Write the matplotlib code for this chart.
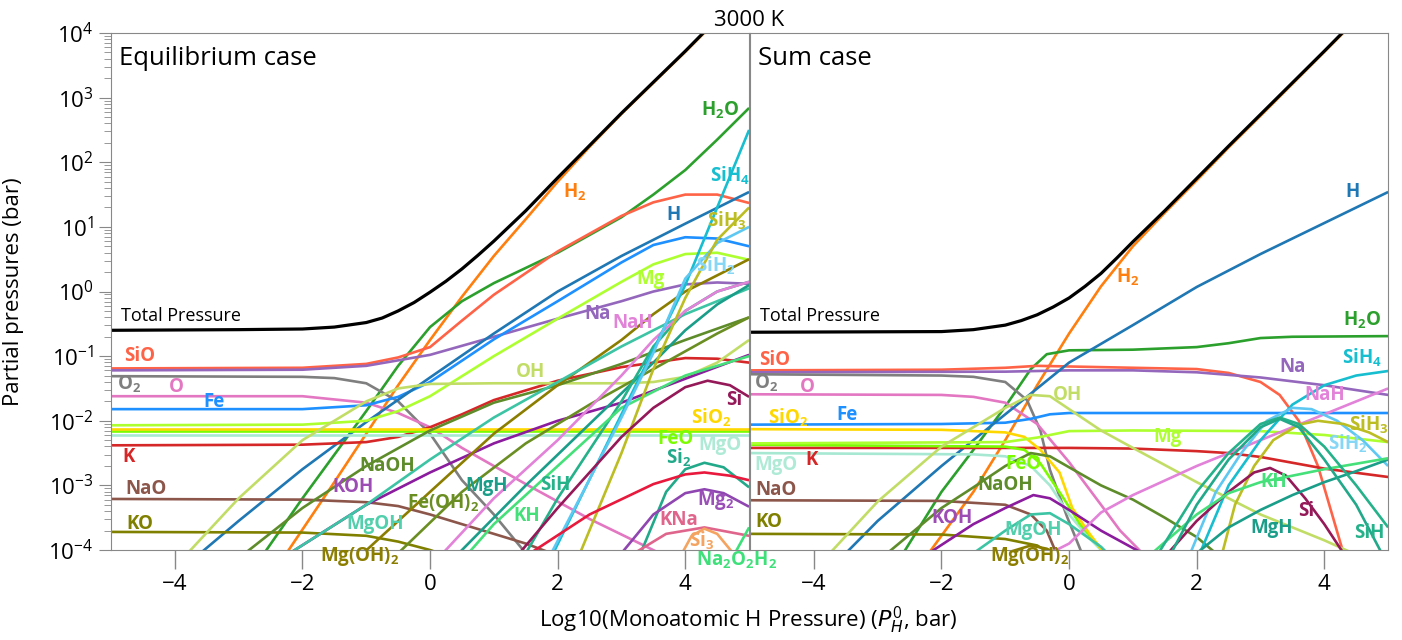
import numpy as np
import matplotlib.pyplot as plt
from matplotlib.ticker import LogLocator, NullFormatter

plt.rcParams['font.family'] = ['Open Sans', 'DejaVu Sans']
plt.rcParams['mathtext.fontset'] = 'custom'
plt.rcParams['mathtext.rm'] = 'Open Sans'
plt.rcParams['mathtext.bf'] = 'Open Sans:bold'

# (log10 P_H0, log10 partial pressure)
# ---------------- equilibrium case ----------------
eq_total = [(-5, -0.6), (-3, -0.59), (-2, -0.58), (-1.5, -0.55), (-1, -0.48), (-0.75, -0.41), (-0.5, -0.3),
            (-0.25, -0.17), (0, -0.01), (0.25, 0.16), (0.5, 0.35), (0.75, 0.56), (1, 0.78), (1.5, 1.25),
            (2, 1.76), (2.5, 2.26), (3, 2.76), (4, 3.72), (5, 4.72)]
eq_H2 = [(-2.25, -4.05), (-1.5, -2.95), (-1, -2.2), (-0.5, -1.45), (0, -0.75), (0.5, -0.08), (1, 0.55),
         (1.5, 1.12), (2, 1.7), (2.5, 2.24), (3, 2.75), (4, 3.71), (5, 4.7)]
eq_H2O = [(-2.6, -4.05), (-2, -3.2), (-1, -1.85), (-0.5, -1.15), (0, -0.55), (0.5, -0.15), (1, 0.13),
          (2, 0.6), (3, 1.15), (3.5, 1.5), (4, 1.88), (4.5, 2.35), (5, 2.84)]
eq_SiO = [(-5, -1.19), (-2, -1.18), (-1, -1.12), (-0.5, -1.02), (0, -0.86), (0.5, -0.45), (1, -0.05),
          (2, 0.62), (3, 1.17), (3.5, 1.38), (4, 1.5), (4.5, 1.5), (5, 1.37)]
eq_Na = [(-5, -1.22), (-2, -1.21), (-1, -1.15), (0, -0.98), (1, -0.7), (2, -0.42), (3, -0.15),
         (3.5, 0.0), (4, 0.11), (4.5, 0.14), (5, 0.12)]
eq_O2 = [(-5, -1.31), (-2, -1.32), (-1.5, -1.34), (-1, -1.42), (-0.5, -1.7), (0, -2.2), (0.5, -2.92),
         (1, -3.45), (1.5, -4.05)]
eq_O = [(-5, -1.62), (-2, -1.62), (-1, -1.72), (-0.5, -1.88), (0, -2.1), (0.5, -2.42), (1, -2.7),
        (1.5, -2.98), (2, -3.25), (2.5, -3.52), (3, -3.76), (3.6, -4.05)]
eq_Fe = [(-5, -1.82), (-2, -1.82), (-1, -1.76), (-0.5, -1.63), (0, -1.4), (0.5, -1.07), (1, -0.74),
         (2, -0.15), (3, 0.45), (3.5, 0.72), (4, 0.84), (4.5, 0.82), (5, 0.7)]
eq_H = [(-3.6, -4.05), (-3, -3.55), (-2, -2.75), (-1, -2.02), (0, -1.33), (1, -0.65), (2, 0.0),
        (3, 0.55), (4, 1.05), (5, 1.54)]
eq_K = [(-5, -2.38), (-2, -2.37), (-1, -2.33), (-0.5, -2.25), (0, -2.1), (0.5, -1.9), (1, -1.68),
        (2, -1.38), (3, -1.17), (4, -1.03), (4.5, -1.04), (5, -1.1)]
eq_NaO = [(-5, -3.21), (-2, -3.22), (-1, -3.26), (-0.5, -3.32), (0, -3.45), (0.5, -3.6), (1, -3.75),
          (1.5, -3.9), (1.9, -4.05)]
eq_KO = [(-5, -3.72), (-2, -3.73), (-1, -3.78), (-0.5, -3.87), (0, -4.0), (0.3, -4.1)]
eq_Mg = [(-5, -2.07), (-2, -2.06), (-1, -2.0), (-0.5, -1.85), (0, -1.62), (1, -1.0), (2, -0.42),
         (3, 0.15), (3.5, 0.42), (4, 0.58), (4.5, 0.6), (5, 0.49)]
eq_OH = [(-3.8, -4.05), (-3, -3.2), (-2, -2.3), (-1, -1.7), (-0.5, -1.5), (0, -1.43), (1, -1.42),
         (2, -1.42), (3, -1.42), (3.5, -1.4), (4, -1.32), (4.5, -1.1), (5, -0.75)]
eq_SiO2 = [(-5, -2.12), (5, -2.12)]
eq_FeO = [(-5, -2.16), (5, -2.16)]
eq_MgO = [(-5, -2.22), (5, -2.22)]
eq_NaOH = [(-2.9, -4.05), (-2, -3.35), (-1, -2.7), (0, -2.15), (1, -1.72), (2, -1.45), (3, -1.12),
           (4, -0.75), (5, -0.4)]
eq_KOH = [(-2.2, -4.05), (-1, -3.3), (0, -2.8), (1, -2.35), (2, -2.0), (3, -1.72), (4, -1.35), (5, -0.98)]
eq_FeOH2 = [(-0.5, -4.05), (0.5, -3.1), (1.5, -2.35), (2.5, -1.75), (3.5, -1.2), (4.5, -0.65), (5, -0.4)]
eq_MgOH2 = [(-1.05, -4.05), (0, -3.1), (1, -2.2), (2, -1.45), (3, -0.75), (3.5, -0.35), (4, 0.0), (5, 0.5)]
eq_MgOH = [(-2.2, -4.05), (-1, -3.3), (0, -2.6), (1, -1.95), (2, -1.4), (3, -0.85), (4, -0.35), (5, 0.05)]
eq_MgH = [(0.45, -4.05), (1.5, -3.0), (2.5, -2.05), (3.5, -1.1), (4, -0.6), (4.5, -0.2), (5, 0.1)]
eq_SiH = [(1.5, -4.05), (2, -3.2), (3, -1.7), (3.5, -0.85), (4, -0.3), (4.5, 0.0), (5, 0.15)]
eq_KH = [(0.6, -4.05), (1, -3.6), (2, -2.7), (3, -1.8), (4, -1.3), (5, -1.0)]
eq_NaH = [(0.2, -4.05), (1, -3.2), (2, -2.3), (3, -1.3), (3.5, -0.75), (4, -0.3), (4.5, 0.0), (5, 0.15)]
eq_SiH4 = [(1.93, -4.05), (3, -1.9), (4, 0.1), (5, 2.5)]
eq_SiH2 = [(1.9, -4.05), (3, -1.95), (3.5, -0.95), (4, 0.2), (4.5, 0.75), (5, 1.0)]
eq_SiH3 = [(2.35, -4.05), (3, -2.5), (3.5, -1.2), (4, -0.1), (4.5, 0.8), (5, 1.3)]
eq_Si = [(1.4, -4.05), (2, -3.35), (2.5, -2.8), (3, -2.25), (3.5, -1.8), (4, -1.48), (4.35, -1.38),
         (4.7, -1.45), (5, -1.63)]
eq_Si2 = [(3.3, -4.05), (3.7, -3.1), (4.0, -2.75), (4.3, -2.65), (4.6, -2.72), (5, -3.03)]
eq_K2 = [(1.57, -4.05), (2.5, -3.45), (3.5, -2.98), (4.0, -2.83), (4.3, -2.8), (4.7, -2.85), (5, -2.92)]
eq_Mg2 = [(3.0, -4.05), (3.5, -3.45), (4.0, -3.12), (4.3, -3.06), (4.6, -3.12), (5, -3.33)]
eq_KNa = [(3.2, -4.05), (3.7, -3.75), (4.3, -3.65), (5, -3.78)]
eq_Si3 = [(3.95, -4.05), (4.1, -3.78), (4.3, -3.67), (4.5, -3.75), (4.75, -4.05)]
eq_Na2O2H2 = [(4.75, -4.1), (5, -3.65)]

# ---------------- sum case ----------------
sum_total = [(-5, -0.63), (-2, -0.62), (-1.5, -0.59), (-1, -0.52), (-0.75, -0.45), (-0.5, -0.36),
             (-0.25, -0.24), (0, -0.1), (0.25, 0.08), (0.5, 0.28), (0.75, 0.52), (1, 0.77), (1.5, 1.25),
             (2, 1.75), (2.5, 2.25), (3, 2.74), (4, 3.72), (5, 4.72)]
sum_H2 = [(-2.2, -4.05), (-1.5, -3.1), (-1, -2.3), (-0.5, -1.45), (0, -0.65), (0.5, 0.08), (1, 0.7),
          (1.5, 1.22), (2, 1.72), (2.5, 2.23), (3, 2.72), (4, 3.71), (5, 4.7)]
sum_H = [(-3.5, -4.05), (-3, -3.55), (-2, -2.7), (-1, -1.9), (0, -1.1), (1, -0.52), (2, 0.07),
         (3, 0.58), (4, 1.06), (5, 1.54)]
sum_H2O = [(-2.6, -4.05), (-2, -3.1), (-1.5, -2.45), (-1, -1.78), (-0.6, -1.2), (-0.35, -0.97), (0, -0.91),
           (1, -0.9), (2, -0.86), (2.5, -0.8), (3, -0.72), (3.5, -0.7), (5, -0.69)]
sum_SiO = [(-5, -1.22), (-2, -1.21), (-1, -1.18), (-0.5, -1.15), (0, -1.16), (1, -1.18), (2, -1.2),
           (2.5, -1.26), (3, -1.4), (3.3, -1.6), (3.6, -2.0), (3.9, -2.7), (4.3, -4.05)]
sum_Na = [(-5, -1.25), (-1, -1.24), (0, -1.22), (1, -1.22), (2, -1.25), (3, -1.33), (4, -1.45), (5, -1.6)]
sum_O2 = [(-5, -1.28), (-2, -1.3), (-1.5, -1.32), (-1, -1.4), (-0.66, -1.68), (-0.45, -2.15),
          (-0.3, -2.76), (-0.03, -3.49), (0.2, -4.05)]
sum_O = [(-5, -1.59), (-2, -1.6), (-1.5, -1.63), (-1, -1.72), (-0.5, -2.05), (0, -2.64), (0.5, -3.3),
         (0.8, -3.7), (1.15, -4.05)]
sum_Fe = [(-5, -2.06), (-2, -2.05), (-1, -2.03), (-0.6, -1.97), (-0.3, -1.9), (0, -1.88), (5, -1.88)]
sum_SiO2 = [(-5, -2.13), (-2, -2.14), (-1, -2.18), (-0.7, -2.25), (-0.45, -2.45), (-0.15, -2.8),
            (0.05, -3.35), (0.3, -3.72), (0.55, -4.05)]
sum_K = [(-5, -2.42), (0, -2.42), (1, -2.43), (2, -2.47), (2.5, -2.5), (3, -2.56), (3.5, -2.65),
         (4, -2.74), (5, -2.87)]
sum_FeO = [(-5, -2.37), (-1, -2.4), (-0.7, -2.45), (-0.45, -2.66), (-0.1, -3.18), (0.17, -3.6),
           (0.45, -3.92), (0.55, -4.05)]
sum_Mg = [(-5, -2.35), (-1, -2.33), (-0.5, -2.26), (0, -2.16), (1, -2.15), (3, -2.16), (4, -2.22), (5, -2.33)]
sum_MgO = [(-5, -2.5), (-1.5, -2.52), (-1, -2.55), (-0.6, -2.7), (-0.3, -3.0), (0, -3.45), (0.3, -3.8),
           (0.55, -4.05)]
sum_NaO = [(-5, -3.23), (-2, -3.24), (-1, -3.3), (-0.6, -3.45), (-0.35, -3.7), (-0.2, -4.05)]
sum_KO = [(-5, -3.75), (-2, -3.76), (-1, -3.83), (-0.5, -3.93), (-0.3, -4.05)]
sum_OH = [(-3.75, -4.05), (-3, -3.25), (-2, -2.4), (-1, -1.8), (-0.6, -1.6), (-0.3, -1.62), (0, -1.82),
          (0.5, -2.15), (1, -2.42), (2, -2.95), (3, -3.45), (4, -3.85), (4.45, -4.05)]
sum_NaOH = [(-2.85, -4.05), (-2, -3.35), (-1.5, -3.03), (-1, -2.7), (-0.6, -2.5), (-0.3, -2.55),
            (0, -2.72), (0.5, -3.0), (1, -3.22), (1.5, -3.5), (2, -3.8), (2.3, -4.05)]
sum_KOH = [(-2.2, -4.05), (-1.5, -3.6), (-1, -3.35), (-0.56, -3.15), (-0.3, -3.2), (0, -3.38),
           (0.5, -3.7), (1.15, -4.05)]
sum_MgOH = [(-1.5, -4.05), (-1, -3.7), (-0.6, -3.45), (-0.3, -3.43), (0, -3.6), (0.5, -3.95), (0.6, -4.05)]
sum_MgOH2 = [(-1.0, -4.05), (-0.6, -3.93), (-0.35, -3.98), (-0.2, -4.05)]
sum_NaH = [(-0.3, -4.05), (0, -3.9), (0.5, -3.42), (1, -3.15), (2, -2.7), (3, -2.3), (4, -1.9), (5, -1.5)]
sum_SiH4 = [(2.05, -4.05), (2.5, -3.0), (3, -2.3), (3.5, -1.75), (4, -1.45), (4.5, -1.3), (5, -1.23)]
sum_SiH2 = [(1.9, -4.05), (2.3, -3.1), (2.7, -2.5), (3.1, -2.0), (3.5, -1.8), (3.8, -1.82), (4.2, -2.0),
            (4.6, -2.3), (5, -2.7)]
sum_SiH3 = [(2.4, -4.05), (2.6, -3.3), (2.9, -2.7), (3.2, -2.3), (3.6, -2.06), (3.9, -2.0), (4.3, -2.05),
            (4.7, -2.18), (5, -2.33)]
sum_Si = [(1.55, -4.05), (2, -3.55), (2.5, -3.1), (2.9, -2.8), (3.15, -2.73), (3.4, -2.85), (3.7, -3.2),
          (4.0, -3.6), (4.3, -4.05)]
sum_MgH = [(2.0, -4.05), (2.5, -3.65), (3, -3.38), (3.5, -3.15), (4, -2.95), (4.5, -2.78), (5, -2.6)]
sum_KH = [(1.3, -4.05), (2, -3.45), (2.5, -3.12), (3, -2.95), (4, -2.75), (5, -2.58)]
sum_SiH = [(1.4, -4.05), (2, -3.1), (2.5, -2.5), (3, -2.05), (3.3, -1.95), (3.6, -2.05), (4, -2.4),
           (4.5, -3.0), (5, -3.65)]
sum_Si2 = [(1.6, -4.05), (2, -3.3), (2.5, -2.6), (3, -2.1), (3.3, -1.97), (3.6, -2.1), (4, -2.6),
           (4.5, -3.3), (4.9, -4.05)]

colors = {
    'H2': '#ff7f0e', 'H': '#1f77b4', 'H2O': '#2ca02c', 'SiO': '#ff6347', 'Na': '#9467bd',
    'O2': '#7f7f7f', 'O': '#e377c2', 'Fe': '#1e90ff', 'K': '#d62728', 'NaO': '#8c564b',
    'KO': '#808000', 'SiO2': '#ffd700', 'FeO': '#7cfc00', 'MgO': '#a6e8d2', 'Mg': '#adff2f',
    'OH': '#c2dd66', 'NaOH': '#5e8c2a', 'KOH': '#8b1c9e', 'FeOH2': '#6b8e23', 'MgOH2': '#8b7d00',
    'MgOH': '#3cc4a4', 'MgH': '#1a9e8a', 'SiH': '#25b28a', 'KH': '#45e07a', 'NaH': '#e282d8',
    'SiH4': '#17becf', 'SiH2': '#5ec8f2', 'SiH3': '#bcbd22', 'Si': '#951858', 'Si2': '#22a98a',
    'K2': '#e8193c', 'Mg2': '#8f46b0', 'KNa': '#e0658c', 'Si3': '#f4a460', 'Na2O2H2': '#3ee07a',
}
label_colors = dict(colors, KOH='#9c4cb4', Mg2='#9a50b8', SiH2='#86d6f6', MgOH='#52cfac', MgO='#aeead6')

eq_curves = {
    'H2': eq_H2, 'H2O': eq_H2O, 'SiO': eq_SiO, 'Na': eq_Na, 'O2': eq_O2, 'O': eq_O, 'Fe': eq_Fe,
    'H': eq_H, 'K': eq_K, 'NaO': eq_NaO, 'KO': eq_KO, 'MgO': eq_MgO, 'FeO': eq_FeO, 'SiO2': eq_SiO2,
    'Mg': eq_Mg, 'OH': eq_OH, 'NaOH': eq_NaOH, 'KOH': eq_KOH, 'FeOH2': eq_FeOH2, 'MgOH2': eq_MgOH2,
    'MgOH': eq_MgOH, 'MgH': eq_MgH, 'SiH': eq_SiH, 'KH': eq_KH, 'NaH': eq_NaH, 'SiH4': eq_SiH4,
    'SiH2': eq_SiH2, 'SiH3': eq_SiH3, 'Si': eq_Si, 'Si2': eq_Si2, 'K2': eq_K2, 'Mg2': eq_Mg2,
    'KNa': eq_KNa, 'Si3': eq_Si3, 'Na2O2H2': eq_Na2O2H2,
}
sum_curves = {
    'H2': sum_H2, 'H2O': sum_H2O, 'SiO': sum_SiO, 'Na': sum_Na, 'O2': sum_O2, 'O': sum_O, 'Fe': sum_Fe,
    'H': sum_H, 'K': sum_K, 'NaO': sum_NaO, 'KO': sum_KO, 'MgO': sum_MgO, 'FeO': sum_FeO,
    'SiO2': sum_SiO2, 'Mg': sum_Mg, 'OH': sum_OH, 'NaOH': sum_NaOH, 'KOH': sum_KOH, 'MgOH2': sum_MgOH2,
    'MgOH': sum_MgOH, 'NaH': sum_NaH, 'SiH4': sum_SiH4, 'SiH2': sum_SiH2, 'SiH3': sum_SiH3, 'Si': sum_Si,
    'MgH': sum_MgH, 'KH': sum_KH, 'SiH': sum_SiH, 'Si2': sum_Si2,
}

texts = {
    'H2': 'H$_\\mathbf{2}$', 'H2O': 'H$_\\mathbf{2}$O', 'O2': 'O$_\\mathbf{2}$', 'SiO2': 'SiO$_\\mathbf{2}$',
    'SiH4': 'SiH$_\\mathbf{4}$', 'SiH3': 'SiH$_\\mathbf{3}$', 'SiH2': 'SiH$_\\mathbf{2}$',
    'Si2': 'Si$_\\mathbf{2}$', 'Mg2': 'Mg$_\\mathbf{2}$', 'Si3': 'Si$_\\mathbf{3}$',
    'FeOH2': 'Fe(OH)$_\\mathbf{2}$', 'MgOH2': 'Mg(OH)$_\\mathbf{2}$',
    'Na2O2H2': 'Na$_\\mathbf{2}$O$_\\mathbf{2}$H$_\\mathbf{2}$',
}

eq_labels = [('SiO', -4.55, -1.0), ('O2', -4.72, -1.43), ('O', -3.98, -1.48), ('Fe', -3.39, -1.71),
             ('K', -4.72, -2.56), ('NaO', -4.45, -3.06), ('KO', -4.55, -3.6), ('H2', 2.27, 1.54),
             ('H2O', 4.55, 2.81), ('SiH4', 4.7, 1.79), ('H', 3.81, 1.18), ('SiH3', 4.65, 1.1),
             ('Mg', 3.45, 0.19), ('SiH2', 4.48, 0.39), ('Na', 2.63, -0.35), ('NaH', 3.18, -0.49),
             ('OH', 1.58, -1.25), ('Si', 4.76, -1.68), ('SiO2', 4.4, -1.96), ('FeO', 3.84, -2.28),
             ('MgO', 4.55, -2.38), ('Si2', 3.89, -2.58), ('NaOH', -0.67, -2.7), ('KOH', -1.21, -3.03),
             ('MgH', 0.89, -3.01), ('SiH', 1.96, -3.0), ('FeOH2', 0.2, -3.28), ('Mg2', 4.48, -3.23),
             ('KH', 1.52, -3.48), ('MgOH', -0.86, -3.59), ('KNa', 3.89, -3.54), ('MgOH2', -1.1, -4.1),
             ('Si3', 4.26, -3.86), ('Na2O2H2', 4.8, -4.16)]
sum_labels = [('SiO', -4.62, -1.06), ('O2', -4.75, -1.42), ('O', -4.1, -1.48), ('SiO2', -4.4, -1.96),
              ('Fe', -3.48, -1.91), ('MgO', -4.6, -2.69), ('K', -4.03, -2.61), ('NaO', -4.6, -3.07),
              ('KO', -4.7, -3.57), ('H2', 0.92, 0.22), ('H', 4.44, 1.54), ('H2O', 4.6, -0.44),
              ('SiH4', 4.59, -1.03), ('Na', 3.51, -1.17), ('NaH', 4.01, -1.6), ('OH', -0.02, -1.6),
              ('SiH3', 4.69, -2.07), ('Mg', 1.55, -2.25), ('SiH2', 4.37, -2.36), ('FeO', -0.72, -2.67),
              ('NaOH', -1.0, -3.0), ('KH', 3.21, -2.95), ('KOH', -1.83, -3.51), ('Si', 3.71, -3.4),
              ('MgOH', -0.56, -3.69), ('MgH', 3.18, -3.66), ('SiH', 4.7, -3.74), ('MgOH2', -0.61, -4.1)]

fig = plt.figure(figsize=(14.02, 6.4), dpi=100)
ax1 = fig.add_axes([0.0792, 0.1406, 0.4551, 0.8078])
ax2 = fig.add_axes([0.5350, 0.1406, 0.4551, 0.8078])
ax2.set_facecolor('none')


def draw(ax, curves, total, labels, title):
    for name, pts in curves.items():
        x, y = np.array(pts).T
        ax.plot(x, 10 ** y, color=colors[name], lw=1.9, solid_capstyle='butt')
    x, y = np.array(total).T
    ax.plot(x, 10 ** y, color='black', lw=2.3)
    for name, lx, ly in labels:
        ax.text(lx, 10 ** ly, texts.get(name, name), color=label_colors[name], fontsize=13.5,
                fontweight='bold', ha='center', va='center')
    ax.text(-4.84, 10 ** -0.38, 'Total Pressure', fontsize=13, ha='left', va='center')
    ax.text(0.012, 0.975, title, transform=ax.transAxes, fontsize=18.5, ha='left', va='top')
    ax.set_yscale('log')
    ax.set_xlim(-5, 5)
    ax.set_ylim(1e-4, 1e4)
    ax.set_xticks([-4, -2, 0, 2, 4])
    ax.tick_params(axis='x', labelsize=16, length=14, color='#888888', width=1)
    ax.tick_params(axis='y', labelsize=16, which='major', length=9, color='#888888')
    ax.tick_params(axis='y', which='minor', length=5, color='#888888')
    ax.yaxis.set_major_locator(LogLocator(base=10, numticks=10))
    ax.yaxis.set_minor_locator(LogLocator(base=10, subs=np.arange(2, 10), numticks=20))
    for sp in ax.spines.values():
        sp.set_color('#888888')


draw(ax1, eq_curves, eq_total, eq_labels, 'Equilibrium case')
draw(ax2, sum_curves, sum_total, sum_labels, 'Sum case')
ax2.tick_params(axis='y', which='both', length=0, labelleft=False)
ax2.yaxis.set_minor_formatter(NullFormatter())

ax1.set_ylabel('Partial pressures (bar)', fontsize=16)
ax1.yaxis.set_label_coords(-0.137, 0.5)
fig.text(0.534, 0.03, 'Log10(Monoatomic H Pressure) ($P_H^0$, bar)', fontsize=16, ha='center', va='center')
fig.text(0.534, 0.968, '3000 K', fontsize=16, ha='center', va='center')

fig.savefig('out.png', dpi=100)
